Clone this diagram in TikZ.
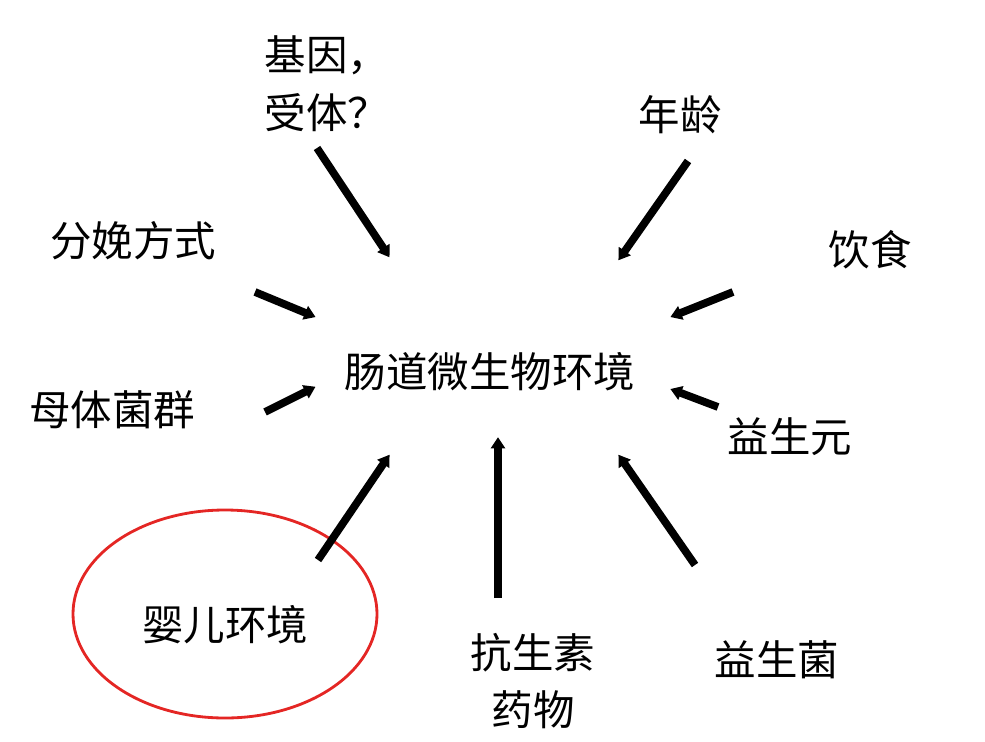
\documentclass[tikz,border=0pt]{standalone}
\usepackage{fontspec}
\newfontfamily\cjk{Noto Sans CJK SC}
\usetikzlibrary{arrows.meta}
\definecolor{ringred}{RGB}{228,38,36}
\begin{document}
\begin{tikzpicture}[x=0.025cm, y=-0.025cm, line width=5.5pt,
  factor/.style={font=\cjk\fontsize{29.5}{41}\selectfont, inner sep=0pt},
  cause/.style={-{Triangle[length=8pt,width=10pt]}, shorten >=-2pt},
  ring/.style={draw=ringred, line width=2pt}]
\useasboundingbox (0,0) rectangle (985,742);
\begin{scope}[every node/.style={factor}]
\node (gut) at (490,372) {肠道微生物环境};
\node [align=left, anchor=west] (gene) at (261,84) {基因，\\受体？};
\node (age) at (680,115) {年龄};
\node (birth) at (133,241) {分娩方式};
\node (diet) at (870,250) {饮食};
\node (mother) at (112,410) {母体菌群};
\node (prebio) at (790,437) {益生元};
\node (infant) at (225,625) {婴儿环境};
\node [align=center] (drug) at (533,681) {抗生素\\药物};
\node (probio) at (777,660) {益生菌};
\end{scope}
\draw [ring] (infant) ++(0,-11) ellipse [x radius=152, y radius=104];
% arrow ends
\coordinate (gene-t) at (317,148);  \coordinate (gene-h) at (388,255);
\coordinate (age-t) at (688,161);   \coordinate (age-h) at (620,258);
\coordinate (birth-t) at (255,292); \coordinate (birth-h) at (313,316);
\coordinate (diet-t) at (733,292);  \coordinate (diet-h) at (673,316);
\coordinate (mother-t) at (265,412); \coordinate (mother-h) at (313,388);
\coordinate (prebio-t) at (718,407); \coordinate (prebio-h) at (673,390);
\coordinate (infant-t) at (318,560); \coordinate (infant-h) at (388,457);
\coordinate (drug-t) at (498,598);  \coordinate (drug-h) at (498,440);
\coordinate (probio-t) at (695,565); \coordinate (probio-h) at (620,457);
\foreach \f in {gene,age,birth,diet,mother,prebio,infant,drug,probio}
  \draw [cause] (\f-t) -- (\f-h);
\end{tikzpicture}
\end{document}
